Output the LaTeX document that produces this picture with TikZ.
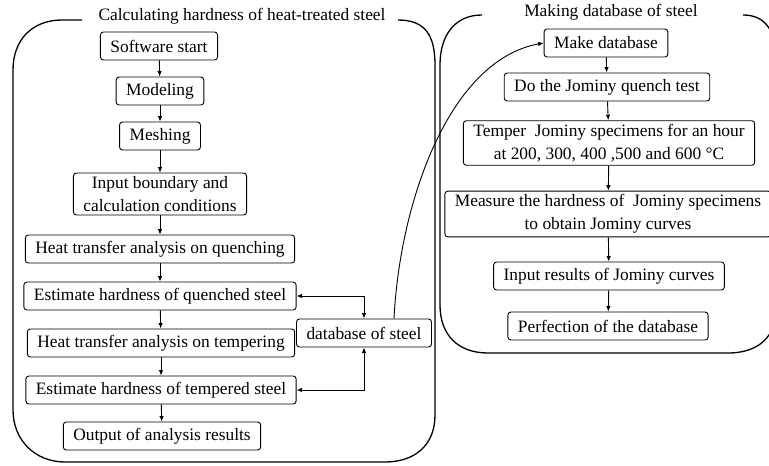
\documentclass[tikz,border=0pt]{standalone}
\usepackage{fontspec}
\setmainfont{Liberation Serif}
\usetikzlibrary{positioning, arrows.meta}

\begin{document}
\begin{tikzpicture}[x=1pt, y=-1pt,
                    process/.style={rectangle, draw=black, rounded corners=3pt, line width=0.9pt,
                                    inner xsep=10pt, minimum height=28pt, align=center,
                                    font=\fontsize{17.4}{23}\selectfont},
                    title/.style={font=\fontsize{17.4}{23}\selectfont, inner sep=0pt},
                    frame/.style={line width=1.3pt},
                    link/.style={->,>={Latex[length=5.5pt,width=4.5pt]}, line width=0.9pt},
                    twoway/.style={<->,>={Latex[length=5.5pt,width=4.5pt]}, line width=0.9pt}]
            \useasboundingbox (0,0) rectangle (769,466);
            \clip (0,0) rectangle (769,466);

            % Calculating hardness
            \node[title] (lefttitle) at (242,16) {Calculating hardness of heat-treated steel};
            \draw[frame] (82,20) -- (62,20) .. controls (32,20) and (13,40) .. (13,70) -- (13,410)
                .. controls (13,440) and (35,462) .. (65,462) -- (385,462)
                .. controls (415,462) and (435,445) .. (435,415) -- (435,65)
                .. controls (435,35) and (425,20) .. (398,20);
            \node[process] (start) at (159,46) {Software start};
            \node[process] (model) at (160,91) {Modeling};
            \node[process] (mesh) at (160,136) {Meshing};
            \node[process] (input) at (160,194) {Input boundary and\\calculation conditions};
            \node[process] (quench) at (160,249) {Heat transfer analysis on quenching};
            \node[process] (qhard) at (160,296) {Estimate hardness of quenched steel};
            \node[process] (temper) at (161,343) {Heat transfer analysis on tempering};
            \node[process] (thard) at (161,390) {Estimate hardness of tempered steel};
            \node[process] (output) at (162,436) {Output of analysis results};
            \node[process] (db) at (364,333) {database of steel};

            % Making database
            \node[title] (righttitle) at (611,12) {Making database of steel};
            \draw[frame] (482,15) .. controls (455,15) and (440,35) .. (440,65) -- (440,305)
                .. controls (440,335) and (458,353) .. (488,353) -- (728,353)
                .. controls (760,353) and (776,335) .. (776,310) -- (776,60)
                .. controls (776,30) and (765,15) .. (743,15);
            \node[process] (make) at (606,43) {Make database};
            \node[process] (jominy) at (607,87) {Do the Jominy quench test};
            \node[process] (tjominy) at (609,143) {Temper\ \ Jominy specimens for an hour\\at 200, 300, 400 ,500 and 600 °C};
            \node[process] (measure) at (608,214) {Measure the hardness of\ \ Jominy specimens\\to obtain Jominy curves};
            \node[process] (curves) at (609,276) {Input results of Jominy curves};
            \node[process] (perfect) at (608,326) {Perfection of the database};

            % Flow
            \draw[link] (start) -- (model);
            \draw[link] (model) -- (mesh);
            \draw[link] (mesh) -- (input);
            \draw[link] (input) -- (quench);
            \draw[link] (quench) -- (qhard);
            \draw[link] (qhard) -- (temper);
            \draw[link] (temper) -- (thard);
            \draw[link] (thard) -- (output);
            \draw[twoway] (qhard.east) -| (db.north);
            \draw[twoway] (thard.east) -| (db.south);
            \draw[link] ([xshift=30pt]db.north) .. controls (400,200) and (450,60) .. (make.west);

            \draw[link] (make) -- (jominy);
            \draw[link] (jominy) -- (tjominy);
            \draw[link] (tjominy) -- (measure);
            \draw[link] (measure) -- (curves);
            \draw[link] (curves) -- (perfect);
        \end{tikzpicture}
\end{document}
